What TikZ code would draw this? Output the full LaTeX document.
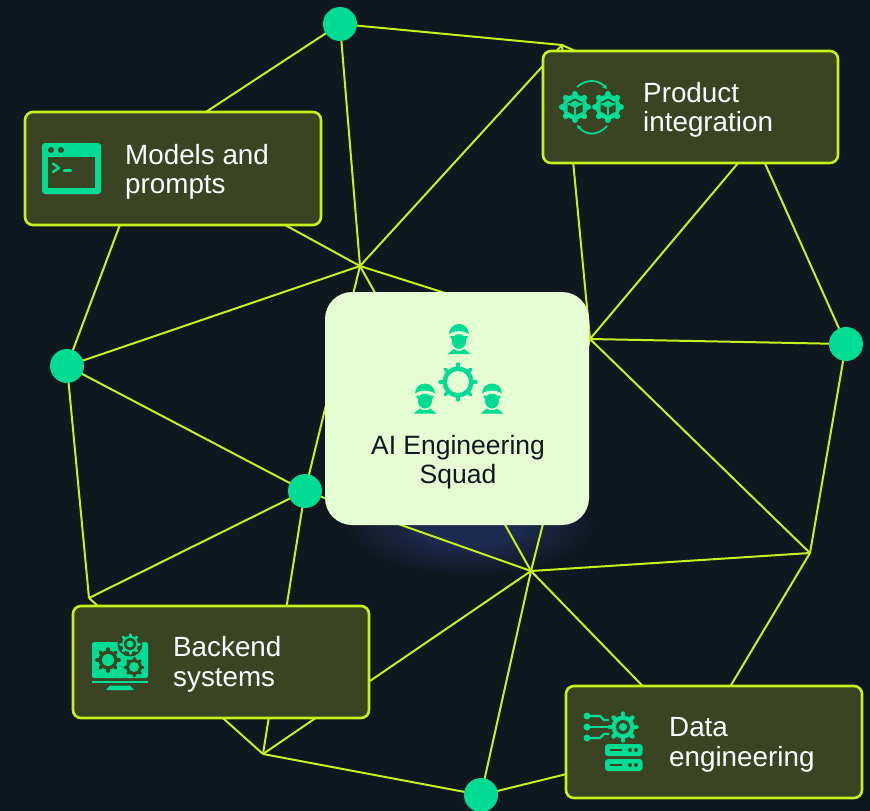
\documentclass[tikz,border=0pt]{standalone}
\usepackage{fontspec}
\setmainfont{Liberation Sans}
\usetikzlibrary{arrows.meta,calc}
\definecolor{bgc}{HTML}{10181F}
\definecolor{linec}{HTML}{C6F01E}
\definecolor{boxc}{HTML}{3A4423}
\definecolor{teal}{HTML}{00DC94}
\definecolor{paper}{HTML}{E4FDD2}
\definecolor{glowc}{HTML}{1C2B50}
\pgfdeclarelayer{bglayer}
\pgfdeclarelayer{edgelayer}
\pgfsetlayers{bglayer,edgelayer,main}
\pgfdeclareradialshading{glowshade}{\pgfpointorigin}{color(0bp)=(glowc); color(10bp)=(glowc); color(25bp)=(bgc); color(50bp)=(bgc)}
\tikzset{
  dot/.style={circle,fill=teal,minimum size=34pt,inner sep=0pt,outer sep=0pt},
  card/.style={draw=linec,line width=2.6pt,fill=boxc,rounded corners=8pt,inner sep=0pt,outer sep=0pt,anchor=north west},
  centercard/.style={fill=paper,rounded corners=27pt,inner sep=0pt,outer sep=0pt,anchor=north west,minimum width=264pt,minimum height=233pt},
  cardtext/.style={text=white,align=left,anchor=west,inner sep=0pt,font=\fontsize{27.8}{29.5}\selectfont},
  squadtext/.style={text=bgc,align=center,inner sep=0pt,font=\fontsize{26.5}{29.5}\selectfont},
  edge/.style={draw=linec,line width=2pt},
}
% x, y, outer radius, root radius, teeth, colour, tooth width
\newcommand{\gearshape}[7]{%
  \fill[#6] (#1,#2) circle[radius=#4];
  \foreach \i in {1,...,#5}{\draw[#6,line width=#7,line cap=round] (#1,#2) -- +({360*\i/#5}:#3);}
}
\newcommand{\worker}[2]{%
  \begin{scope}[shift={(#1,#2)}]
    \fill[teal] (-10,10) arc[start angle=180,end angle=360,radius=10] .. controls (6,7) and (-6,7) .. cycle;
    \fill[teal] (0,17.5) ellipse[x radius=7,y radius=7.5];
    \fill[teal] (-9,12) -- (9,12) -- (7,16) -- (-7,16) -- cycle;
    \fill[paper] (-8,9) .. controls (-3,6.5) and (3,6.5) .. (8,9) -- (9,11.5) .. controls (3,9.5) and (-3,9.5) .. (-9,11.5) -- cycle;
    \fill[teal] (-11.5,30) -- (11.5,30) -- (5,25) -- (2.5,26.5) -- (-2.5,26.5) -- (-5,25) -- cycle;
  \end{scope}
}
\begin{document}
\begin{tikzpicture}[x=1pt,y=-1pt]
\useasboundingbox (0,0) rectangle (870,811);
\begin{pgfonlayer}{bglayer}
  \fill[bgc] (0,0) rectangle (870,811);
  \shade[shading=glowshade] (470,525) ellipse[x radius=125,y radius=50];
\end{pgfonlayer}

% cards
\node[card,minimum width=296pt,minimum height=113pt] (models) at (25,112) {};
\node[card,minimum width=295pt,minimum height=112pt] (product) at (543,51) {};
\node[card,minimum width=296pt,minimum height=112pt] (backend) at (73,606) {};
\node[card,minimum width=296pt,minimum height=112pt] (data) at (566,686) {};
\node[centercard] (squad) at (325,292) {};

% dots
\node[dot] (a) at (340,24) {};
\node[dot] (b) at (67,366) {};
\node[dot] (c) at (846,344) {};
\node[dot] (d) at (305,491) {};
\node[dot] (e) at (481,795) {};

% junctions
\coordinate (j1) at (360,266);
\coordinate (j2) at (562,45);
\coordinate (j3) at (590,339);
\coordinate (j4) at (810,553);
\coordinate (j5) at (531,571);
\coordinate (j6) at (89,598);
\coordinate (j7) at (263,754);
\coordinate (hm) at (148,150);
\coordinate (hp) at (750,130);
\coordinate (hq) at (760,137);
\coordinate (hd) at (697,742);

\begin{pgfonlayer}{edgelayer}
  \draw[edge] (a.center) -- (j2);
  \draw[edge] (a.center) -- (hm);
  \draw[edge] (a.center) -- (j1);
  \draw[edge] (j2) -- (j1);
  \draw[edge] (j2) -- (j3);
  \draw[edge] (j2) -- (hp);
  \draw[edge] (hp) -- (c.center);
  \draw[edge] (j3) -- (hq);
  \draw[edge] (j3) -- (c.center);
  \draw[edge] (j3) -- (j4);
  \draw[edge] (j3) -- (j5);
  \draw[edge] (j3) -- (j1);
  \draw[edge] (j1) -- (hm);
  \draw[edge] (j1) -- (b.center);
  \draw[edge] (j1) -- (d.center);
  \draw[edge] (j1) -- (j5);
  \draw[edge] (hm) -- (b.center);
  \draw[edge] (b.center) -- (d.center);
  \draw[edge] (b.center) -- (j6);
  \draw[edge] (j6) -- (d.center);
  \draw[edge] (j6) -- (j7);
  \draw[edge] (d.center) -- (j7);
  \draw[edge] (d.center) -- (j5);
  \draw[edge] (j5) -- (j7);
  \draw[edge] (j5) -- (j4);
  \draw[edge] (j5) -- (e.center);
  \draw[edge] (j5) -- (hd);
  \draw[edge] (j4) -- (hd);
  \draw[edge] (j4) -- (c.center);
  \draw[edge] (j7) -- (e.center);
  \draw[edge] (e.center) -- (hd);
\end{pgfonlayer}

% texts
\node[cardtext] (tmodels) at (125,172) {Models and\\prompts};
\node[cardtext] (tproduct) at (643,110) {Product\\integration};
\node[cardtext] (tbackend) at (173,664.5) {Backend\\systems};
\node[cardtext] (tdata) at (669,745) {Data\\engineering};
\node[squadtext] (tsquad) at (458,462) {AI Engineering\\Squad};

% models icon
\fill[teal,rounded corners=3pt] (42,143) rectangle (101,194);
\fill[boxc] (48,157) rectangle (95,188);
\fill[boxc] (51,150) circle[radius=3] (61,150) circle[radius=3];
\draw[teal,line width=2.4pt,line cap=round,line join=round] (53,163.5) -- (59,168) -- (53,172);
\draw[teal,line width=2.4pt,line cap=round] (64,170.5) -- (71,170.5);

% product icon
\foreach \gx in {575,608}{
  \gearshape{\gx}{107}{13}{12.5}{8}{teal}{6}
  \fill[boxc] (\gx,98.5) -- (\gx+7.5,102.5) -- (\gx+7.5,111.5) -- (\gx,115.5) -- (\gx-7.5,111.5) -- (\gx-7.5,102.5) -- cycle;
  \fill[teal] (\gx,100.5) -- (\gx+5,103.3) -- (\gx,106) -- (\gx-5,103.3) -- cycle;
  \draw[teal,line width=1.8pt] (\gx,107) -- (\gx,115);
  \draw[teal,line width=1.8pt] (\gx,107) -- (\gx-7,103.5) (\gx,107) -- (\gx+7,103.5);
}
\draw[teal,line width=1.8pt,-{Stealth[length=4.5pt,width=5pt]}] (577,87) .. controls (586,79) and (598,79) .. (607,89);
\draw[teal,line width=1.8pt,-{Stealth[length=4.5pt,width=5pt]}] (607,126) .. controls (598,136) and (586,136) .. (577,125);

% squad icon
\worker{459}{324}
\worker{425}{383.5}
\worker{492}{383.5}
\gearshape{458}{382}{18}{15.5}{8}{teal}{3.4}
\fill[paper] (458,382) circle[radius=11];

% backend icon
\fill[teal,rounded corners=1.5pt] (92,642) rectangle (148,678);
\fill[teal] (92,680.5) rectangle (148,683);
\fill[teal] (110,685.5) -- (130,685.5) -- (134,690) -- (106,690) -- cycle;
\fill[boxc] (130,644) circle[radius=12.5];
\gearshape{130}{644}{9.5}{8}{8}{teal}{3}
\fill[boxc] (130,644) circle[radius=6];
\fill[teal] (130,644) circle[radius=3.5];
\gearshape{108}{660}{11}{9.5}{8}{boxc}{3.6}
\fill[teal] (108,660) circle[radius=6];
\gearshape{134}{667}{9}{8}{8}{boxc}{3}
\fill[teal] (134,667) circle[radius=5];

% data icon
\gearshape{623}{727}{13.5}{11.5}{8}{teal}{4.4}
\fill[boxc] (623,727) circle[radius=7];
\fill[teal] (623,727) circle[radius=4];
\fill[teal] (587,716) circle[radius=3.5] (587,727) circle[radius=3.5] (587,738) circle[radius=3.5];
\draw[teal,line width=2.2pt] (587,716) -- (600,716) -- (604,720) -- (609,720);
\draw[teal,line width=2.2pt] (587,727) -- (608,727);
\draw[teal,line width=2.2pt] (587,738) -- (600,738) -- (604,734) -- (609,734);
\foreach \sy in {744,759}{
  \fill[teal,rounded corners=3pt] (605,\sy) rectangle (642.5,\sy+12);
  \draw[boxc,line width=1.6pt] (610,\sy+6) -- (622,\sy+6);
  \fill[boxc] (630,\sy+6) circle[radius=2] (636,\sy+6) circle[radius=2];
}
\end{tikzpicture}
\end{document}
